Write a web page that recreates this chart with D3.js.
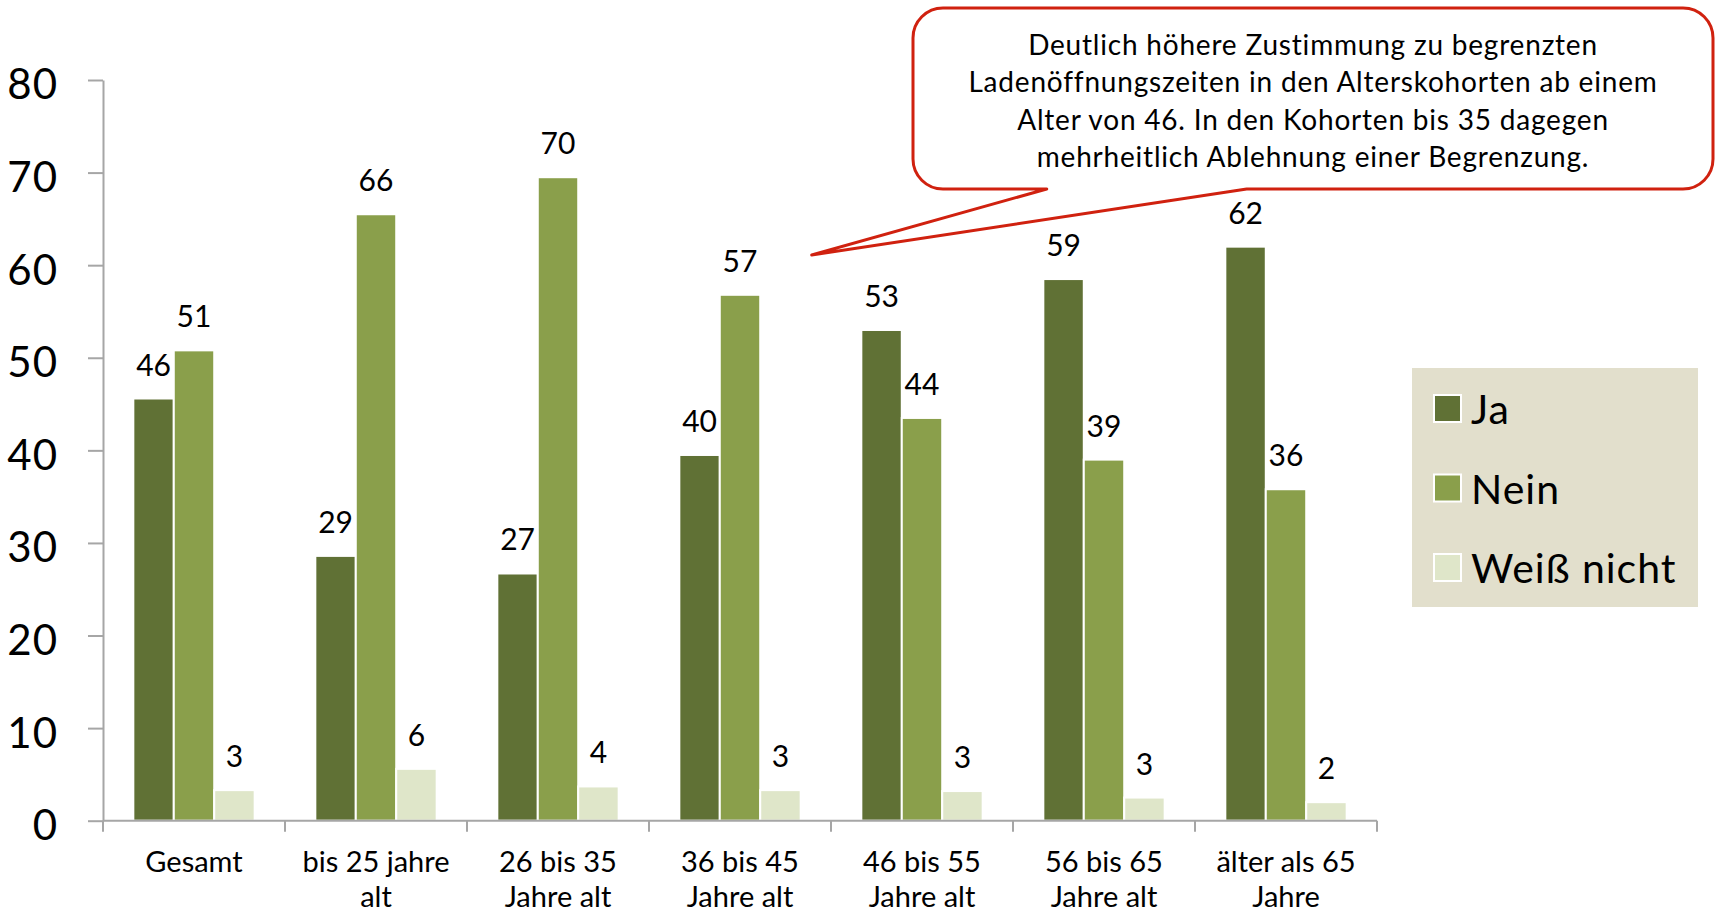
<!DOCTYPE html>
<html>
<head>
<meta charset="utf-8">
<title>Ladenöffnungszeiten nach Alter</title>
<style>
  body { margin: 0; background: #fff; }
  svg text { font-family: Lato, "Open Sans", sans-serif; fill: #000; }
</style>
</head>
<body>
<svg id="chart" width="1715" height="914"></svg>

<script src="https://d3js.org/d3.v7.min.js"></script>
<script>
// Daten
var kategorien = ["Gesamt", "bis 25 jahre|alt", "26 bis 35|Jahre alt", "36 bis 45|Jahre alt",
                  "46 bis 55|Jahre alt", "56 bis 65|Jahre alt", "älter als 65|Jahre"];
var serien = ["Ja", "Nein", "Weiß nicht"];
var ja = [45.6, 28.6, 26.7, 39.5, 53.0, 58.5, 62.0];
var nein = [50.8, 65.5, 69.5, 56.8, 43.5, 39.0, 35.8];
var weissNicht = [3.3, 5.6, 3.7, 3.3, 3.2, 2.5, 2.0];
var yTicks = [0, 10, 20, 30, 40, 50, 60, 70, 80];
var farben = ["#607135", "#8a9f4b", "#dfe6c9"];
var hinweis = ["Deutlich höhere Zustimmung zu begrenzten",
               "Ladenöffnungszeiten in den Alterskohorten ab einem",
               "Alter von 46. In den Kohorten bis 35 dagegen",
               "mehrheitlich Ablehnung einer Begrenzung."];

var werte = [ja, nein, weissNicht];
var svg = d3.select("#chart");
var achsenFarbe = "#a6a6a6";

var links = 103, rechts = 1377, oben = 80, unten = 820.7;

var y = d3.scaleLinear().domain([0, 80]).range([unten, oben]);
var x = d3.scaleBand().domain(kategorien).range([links, rechts]).padding(0);
var xs = d3.scaleBand().domain(serien).range([0, x.bandwidth()])
    .paddingInner(0).paddingOuter(0.75);

var farbe = d3.scaleOrdinal().domain(serien).range(farben);

// Balken
var daten = [];
kategorien.forEach(function(k, i) {
    serien.forEach(function(s, j) {
        daten.push({kat: k, serie: s, wert: werte[j][i]});
    });
});

svg.append("g").selectAll("rect")
    .data(daten)
    .enter()
    .append("rect")
    .attr("x", function(d) { return x(d.kat) + xs(d.serie); })
    .attr("y", function(d) { return y(d.wert); })
    .attr("width", xs.bandwidth())
    .attr("height", function(d) { return y(0) - y(d.wert); })
    .attr("fill", function(d) { return farbe(d.serie); })
    .attr("stroke", "#fff")
    .attr("stroke-width", 2);

// Werte
svg.append("g").selectAll("text")
    .data(daten)
    .enter()
    .append("text")
    .attr("x", function(d) { return x(d.kat) + xs(d.serie) + xs.bandwidth() / 2; })
    .attr("y", function(d) { return y(d.wert) - 23; })
    .attr("text-anchor", "middle")
    .style("font-size", "30px")
    .text(function(d) { return Math.round(d.wert); });

// y-Achse
var yAchse = svg.append("g")
    .attr("transform", "translate(" + links + ",0)")
    .call(d3.axisLeft(y).tickValues(yTicks).tickSize(15).tickSizeOuter(0).tickPadding(30));
yAchse.selectAll("path, line").attr("stroke", achsenFarbe).attr("stroke-width", 2);
yAchse.selectAll("text")
    .attr("dy", "0.45em")
    .style("font-size", "42px")
    .style("letter-spacing", "1px")
    .style("font-family", "Lato, sans-serif")
    .attr("fill", "#000");

// x-Achse
var grenzen = kategorien.map(function(k) { return x(k); }).concat([rechts]);
svg.append("line")
    .attr("x1", links).attr("x2", rechts)
    .attr("y1", unten).attr("y2", unten)
    .attr("stroke", achsenFarbe).attr("stroke-width", 2);
svg.append("g").selectAll("line")
    .data(grenzen)
    .enter()
    .append("line")
    .attr("x1", function(d) { return d; }).attr("x2", function(d) { return d; })
    .attr("y1", unten).attr("y2", unten + 11)
    .attr("stroke", achsenFarbe).attr("stroke-width", 2);

var xLabels = svg.append("g").selectAll("text")
    .data(kategorien)
    .enter()
    .append("text")
    .attr("text-anchor", "middle")
    .style("font-size", "29px");
xLabels.selectAll("tspan")
    .data(function(d) { return d.split("|").map(function(t) { return {t: t, k: d}; }); })
    .enter()
    .append("tspan")
    .attr("x", function(d) { return x(d.k) + x.bandwidth() / 2; })
    .attr("y", function(d, i) { return 872 + i * 34.5; })
    .text(function(d) { return d.t; });

// Legende
var legende = svg.append("g");
legende.append("rect")
    .attr("x", 1412).attr("y", 368)
    .attr("width", 286).attr("height", 239)
    .attr("fill", "#e2dfcc");
var eintrag = legende.selectAll("g.eintrag")
    .data(serien)
    .enter()
    .append("g")
    .attr("class", "eintrag")
    .attr("transform", function(d, i) { return "translate(1434," + (395 + i * 79.5) + ")"; });
eintrag.append("rect")
    .attr("width", 27).attr("height", 27)
    .attr("fill", function(d) { return farbe(d); })
    .attr("stroke", "#fff").attr("stroke-width", 2);
eintrag.append("text")
    .attr("x", 37).attr("y", 29)
    .style("font-size", "41px")
    .style("letter-spacing", "1px")
    .text(function(d) { return d; });

// Sprechblase
var bx0 = 913, bx1 = 1713, by0 = 8, by1 = 189, r = 30;
var blase = d3.path();
blase.moveTo(bx0 + r, by0);
blase.lineTo(bx1 - r, by0);
blase.arcTo(bx1, by0, bx1, by0 + r, r);
blase.lineTo(bx1, by1 - r);
blase.arcTo(bx1, by1, bx1 - r, by1, r);
blase.lineTo(1246.7, by1);
blase.lineTo(811.7, 255);
blase.lineTo(1046.7, by1);
blase.lineTo(bx0 + r, by1);
blase.arcTo(bx0, by1, bx0, by1 - r, r);
blase.lineTo(bx0, by0 + r);
blase.arcTo(bx0, by0, bx0 + r, by0, r);
blase.closePath();

svg.append("path")
    .attr("d", blase.toString())
    .attr("fill", "#fff")
    .attr("stroke", "#d0210f")
    .attr("stroke-width", 3)
    .attr("stroke-linejoin", "round");

svg.append("g").selectAll("text")
    .data(hinweis)
    .enter()
    .append("text")
    .attr("x", (bx0 + bx1) / 2)
    .attr("y", function(d, i) { return 55 + i * 37.3; })
    .attr("text-anchor", "middle")
    .style("font-size", "28px")
    .style("letter-spacing", "0.8px")
    .text(function(d) { return d; });
</script>
</body>
</html>
